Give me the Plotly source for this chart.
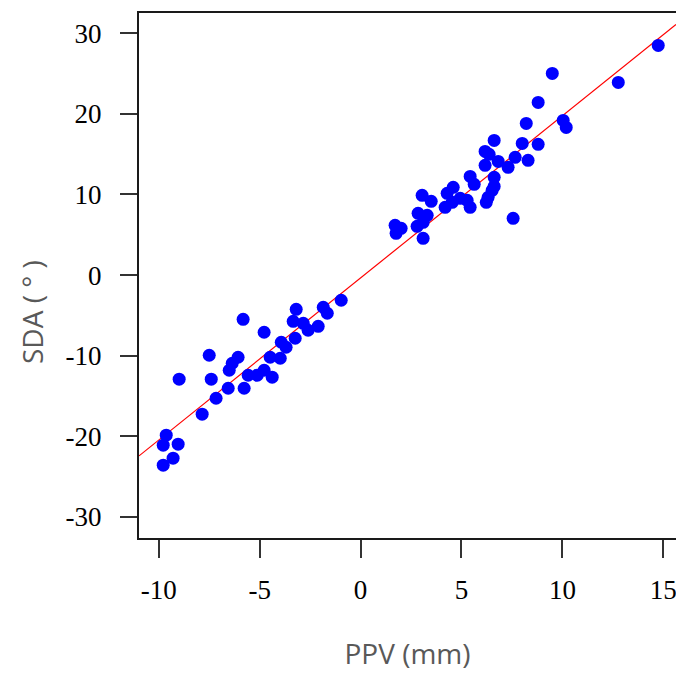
import plotly.graph_objects as go

# PPV (mm) values
ppv = [-9.78, -9.29, -9.78, -9.04, -9.63, -7.85, -7.16, -6.56, -5.77, -8.99,
       -7.40, -5.57, -5.12, -4.78, -4.38, -6.51, -6.36, -7.50, -6.07, -4.48,
       -3.98, -3.93, -3.69, -3.24, -4.78, -5.82, -3.34, -2.84, -3.19, -2.60,
       -2.10, -1.85, -1.65, -0.96,
       1.71, 2.01, 1.76, 2.80, 3.10, 3.10, 2.85, 3.30, 3.05, 3.50,
       4.19, 4.54, 4.29, 4.59, 4.94, 5.28, 5.43, 5.43, 5.63, 6.23,
       6.32, 6.52, 6.62, 6.62, 6.17, 6.82, 7.31, 6.17, 6.37, 6.62,
       7.66, 8.30, 8.01, 8.80, 7.56, 8.21, 8.80, 10.04, 10.19, 9.50,
       12.77, 14.75]
# SDA (degree) values
sda = [-23.57, -22.70, -21.09, -20.97, -19.85, -17.25, -15.27, -14.03, -14.03, -12.91,
       -12.91, -12.42, -12.42, -11.80, -12.66, -11.80, -10.93, -9.94, -10.19, -10.19,
       -10.31, -8.33, -8.95, -7.83, -7.09, -5.48, -5.73, -5.98, -4.24, -6.84,
       -6.35, -3.99, -4.73, -3.12,
       6.17, 5.80, 5.18, 6.05, 6.54, 4.56, 7.66, 7.41, 9.89, 9.15,
       8.40, 9.02, 10.14, 10.88, 9.52, 9.27, 8.40, 12.24, 11.25, 9.02,
       9.64, 10.51, 11.00, 12.12, 13.61, 14.10, 13.36, 15.34, 14.97, 16.70,
       14.60, 14.23, 16.33, 16.21, 7.04, 18.81, 21.41, 19.18, 18.31, 25.01,
       23.89, 28.48]

# regression line
fit_slope = 2.01
fit_intercept = -0.35
fit_x = [-10.98, 15.63]

x_ticks = [-10, -5, 0, 5, 10, 15]
y_ticks = [-30, -20, -10, 0, 10, 20, 30]

fig = go.Figure()
fig.add_trace(go.Scatter(
    x=fit_x, y=[fit_intercept + fit_slope * v for v in fit_x],
    mode="lines", line=dict(color="#ff0000", width=1.2), showlegend=False))
fig.add_trace(go.Scatter(
    x=ppv, y=sda, mode="markers",
    marker=dict(color="#0000ff", size=13, line=dict(width=0)),
    showlegend=False))

tick_font = dict(family="Liberation Serif", size=27, color="#000000")
title_font = dict(family="Open Sans", size=28, color="#595959")

fig.update_layout(
    width=676, height=673,
    margin=dict(l=139, r=0, t=13, b=135),
    paper_bgcolor="white", plot_bgcolor="white",
    xaxis=dict(
        range=[-10.98, 15.63], tickvals=x_ticks, ticktext=[str(v) for v in x_ticks],
        showgrid=False, zeroline=False, automargin=False, ticklabeloverflow="allow",
        showline=True, mirror=True, linecolor="#1a1a1a", linewidth=2,
        ticks="outside", ticklen=18, tickwidth=2, tickcolor="#333333",
        tickfont=tick_font, ticklabelstandoff=9,
        title=dict(text="PPV (mm)", font=title_font, standoff=40),
    ),
    yaxis=dict(
        range=[-32.6, 32.5], tickvals=y_ticks, ticktext=[str(v) for v in y_ticks],
        showgrid=False, zeroline=False, automargin=False, ticklabeloverflow="allow",
        showline=True, mirror=False, linecolor="#1a1a1a", linewidth=2,
        ticks="outside", ticklen=17, tickwidth=2, tickcolor="#333333",
        tickfont=tick_font, ticklabelstandoff=13,
    ),
    annotations=[dict(
        text="SDA ( ° )", textangle=-90, showarrow=False,
        xref="paper", yref="paper", x=(32 - 139) / 537, y=(538 - 312) / 525,
        xanchor="center", yanchor="middle", font=title_font,
    )],
)

# remove the default page margin so the 676x673 figure fills the window
fig.write_html("out.html",
               config=dict(displayModeBar=False),
               post_script="document.body.style.margin='0px';"
                           "document.body.style.overflow='hidden';")
